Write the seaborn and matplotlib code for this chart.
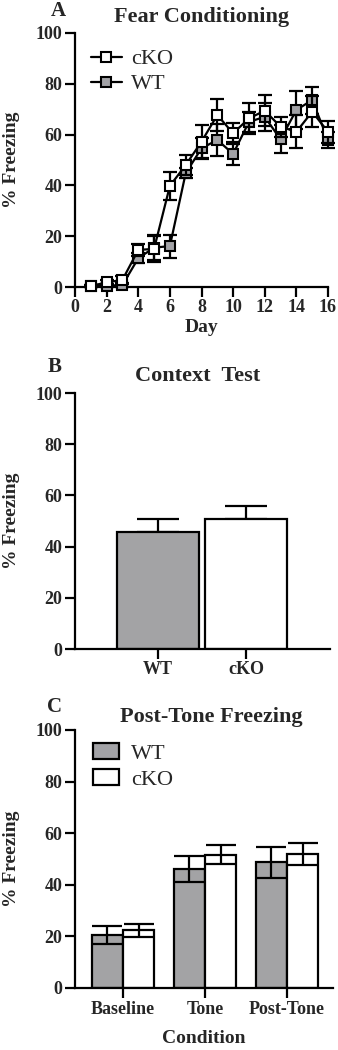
import numpy as np
import pandas as pd
import matplotlib
matplotlib.use("Agg")
import matplotlib.pyplot as plt
import seaborn as sns
from matplotlib.lines import Line2D
from matplotlib.patches import Patch

# ---------------- data ----------------
days = list(range(1, 17))
cko_mean = [0.4, 1.8, 2.8, 14.6, 15.0, 39.8, 48.0, 57.2, 67.7, 60.5, 66.4, 69.4, 63.1, 61.1, 69.0, 61.1]
cko_sem = [0.5, 1.0, 1.5, 2.5, 5.0, 5.5, 4.0, 6.5, 6.2, 4.2, 6.0, 6.0, 4.0, 6.5, 6.0, 4.3]
wt_mean = [0.3, 0.5, 0.8, 11.3, 15.5, 16.1, 44.8, 54.6, 57.9, 52.4, 65.0, 67.0, 58.1, 69.7, 73.6, 57.9]
wt_sem = [0.3, 0.5, 0.8, 2.0, 5.0, 4.5, 2.0, 4.2, 6.2, 4.5, 4.0, 5.5, 5.5, 7.5, 5.3, 3.3]

context_groups = ["WT", "cKO"]
context_mean = [45.8, 50.7]
context_sem = [5.0, 5.3]

conditions = ["Baseline", "Tone", "Post-Tone"]
tone_wt_mean = [20.7, 46.1, 48.7]
tone_wt_sem = [3.5, 5.0, 6.0]
tone_cko_mean = [22.3, 51.6, 51.8]
tone_cko_sem = [2.5, 3.7, 4.3]

# ---------------- style ----------------
sns.set_theme(style="ticks")
plt.rcParams["font.family"] = ["Liberation Serif", "DejaVu Serif"]
plt.rcParams["font.weight"] = "bold"
GRAY = "#a2a2a6"
LW = 1.6
TICK_FS = 13
LABEL_FS = 14
TITLE_FS = 16
LEG_FS = 16

W, H = 338, 1050
fig = plt.figure(figsize=(W / 100, H / 100), dpi=100)


def rect(l, r, t, b):
    return [l / W, 1 - b / H, (r - l) / W, (b - t) / H]


def style_axes(ax):
    sns.despine(ax=ax)
    for s in ("left", "bottom"):
        ax.spines[s].set_linewidth(LW)
        ax.spines[s].set_color("black")
    ax.tick_params(axis="both", width=LW, length=7, color="black",
                   labelsize=TICK_FS, pad=2)
    for lab in ax.get_xticklabels() + ax.get_yticklabels():
        lab.set_fontweight("bold")
    ax.set_yticks(range(0, 101, 20))
    ax.set_ylim(0, 100)


def ftext(x, y, s, **kw):
    fig.text(x / W, 1 - y / H, s, **kw)


# ---------------- Panel A ----------------
axA = fig.add_axes(rect(75, 328, 33, 287))
dfA = pd.DataFrame({
    "Day": days * 2,
    "Freezing": wt_mean + cko_mean,
    "Group": ["WT"] * 16 + ["cKO"] * 16,
})
axA.errorbar(days, wt_mean, yerr=wt_sem, fmt="none", ecolor="black",
             elinewidth=LW, capsize=5, capthick=LW, zorder=2, clip_on=False)
sns.lineplot(data=dfA[dfA.Group == "WT"], x="Day", y="Freezing", ax=axA,
             color="black", lw=LW, marker="s", markersize=7,
             markerfacecolor=GRAY, markeredgecolor="black", markeredgewidth=1.5,
             zorder=3, clip_on=False, legend=False)
axA.errorbar(days, cko_mean, yerr=cko_sem, fmt="none", ecolor="black",
             elinewidth=LW, capsize=5, capthick=LW, zorder=4, clip_on=False)
sns.lineplot(data=dfA[dfA.Group == "cKO"], x="Day", y="Freezing", ax=axA,
             color="black", lw=LW, marker="s", markersize=7,
             markerfacecolor="white", markeredgecolor="black", markeredgewidth=1.5,
             zorder=5, clip_on=False, legend=False)
axA.set_xlim(0, 16)
axA.set_xticks(range(0, 17, 2))
style_axes(axA)
axA.set_xlabel("Day", fontsize=LABEL_FS, fontweight="bold", labelpad=2)
axA.set_ylabel("")
hA = [Line2D([], [], color="black", lw=LW, marker="s", markersize=7,
             markerfacecolor="white", markeredgecolor="black", markeredgewidth=1.5),
      Line2D([], [], color="black", lw=LW, marker="s", markersize=7,
             markerfacecolor=GRAY, markeredgecolor="black", markeredgewidth=1.5)]
axA.legend(hA, ["cKO", "WT"], loc="upper left", bbox_to_anchor=(0.01, 0.99),
           frameon=False, prop={"family": "Liberation Serif", "size": LEG_FS, "weight": "normal"},
           handlelength=1.4, handletextpad=0.4, labelspacing=0.2, borderaxespad=0.2)

# ---------------- Panel B ----------------
axB = fig.add_axes(rect(75, 330, 393, 649))
axB.errorbar(context_groups, context_mean,
             yerr=[[0] * len(context_sem), context_sem], fmt="none",
             ecolor="black", elinewidth=LW, capsize=15, capthick=LW, zorder=1)
sns.barplot(x=context_groups, y=context_mean, hue=context_groups,
            palette=[GRAY, "white"], ax=axB, width=0.93, edgecolor="black",
            linewidth=LW, legend=False, zorder=2)
axB.set_xlim(-0.943, 1.955)
style_axes(axB)
axB.set_ylabel("")

# ---------------- Panel C ----------------
axC = fig.add_axes(rect(75, 333, 730, 988))
dfC = pd.DataFrame({
    "Condition": conditions * 2,
    "Freezing": tone_wt_mean + tone_cko_mean,
    "Group": ["WT"] * 3 + ["cKO"] * 3,
})
sns.barplot(data=dfC, x="Condition", y="Freezing", hue="Group",
            hue_order=["WT", "cKO"], palette=[GRAY, "white"], ax=axC,
            width=0.76, edgecolor="black", linewidth=LW, zorder=2)
sems = [tone_wt_sem, tone_cko_sem]
for cont, sem in zip(axC.containers, sems):
    xs = [p.get_x() + p.get_width() / 2 for p in cont.patches]
    ys = [p.get_height() for p in cont.patches]
    axC.errorbar(xs, ys, yerr=sem, fmt="none", ecolor="black",
                 elinewidth=LW, capsize=11, capthick=LW, zorder=3)
axC.set_xlim(-0.585, 2.561)
style_axes(axC)
axC.set_ylabel("")
axC.set_xlabel("Condition", fontsize=LABEL_FS, fontweight="bold", labelpad=9)
hC = [Patch(facecolor=GRAY, edgecolor="black", linewidth=LW),
      Patch(facecolor="white", edgecolor="black", linewidth=LW)]
axC.legend(hC, ["WT", "cKO"], loc="upper left", bbox_to_anchor=(0.02, 1.0),
           frameon=False, prop={"family": "Liberation Serif", "size": LEG_FS, "weight": "normal"},
           handlelength=1.15, handleheight=0.7, handletextpad=0.55, labelspacing=0.25,
           borderaxespad=0.2)

# ---------------- titles / letters / y labels ----------------
ftext(202, 17, "Fear Conditioning", ha="center", va="center",
      fontsize=TITLE_FS, fontweight="bold")
ftext(58, 11, "A", ha="center", va="center", fontsize=15, fontweight="bold")
ftext(198, 376, "Context  Test", ha="center", va="center",
      fontsize=TITLE_FS, fontweight="bold")
ftext(55, 367, "B", ha="center", va="center", fontsize=15, fontweight="bold")
ftext(211, 717, "Post-Tone Freezing", ha="center", va="center",
      fontsize=TITLE_FS, fontweight="bold")
ftext(55, 707, "C", ha="center", va="center", fontsize=15, fontweight="bold")
for yc in (160, 521, 859):
    ftext(12, yc, "% Freezing", ha="center", va="center", rotation=90,
          fontsize=LABEL_FS, fontweight="bold")

fig.savefig("out.png", dpi=100)
